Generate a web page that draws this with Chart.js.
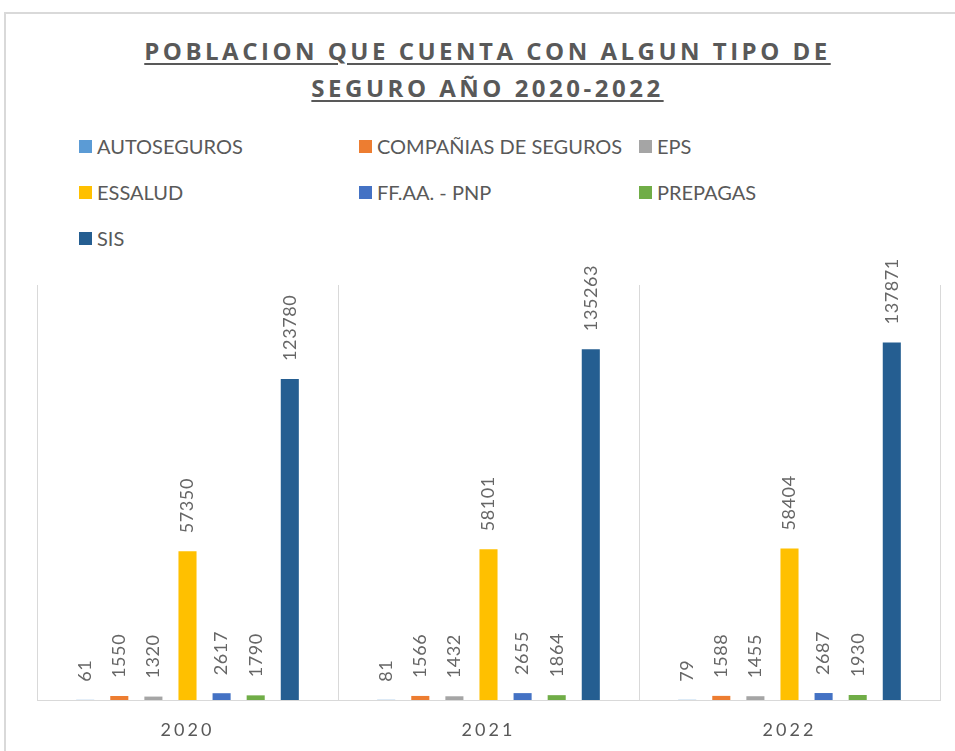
<!DOCTYPE html>
<html>
<head>
<meta charset="utf-8">
<script src="https://cdn.jsdelivr.net/npm/chart.js@4.4.1/dist/chart.umd.min.js"></script>
<style>
    html, body { margin: 0; padding: 0; background: #fff; overflow: hidden; }
    #wrap { position: relative; width: 955px; height: 751px; }
    #frame {
        position: absolute; left: 4px; top: 12px; width: 1000px; height: 800px;
        border: 2px solid #d9d9d9; box-sizing: border-box;
    }
    #title {
        position: absolute; left: 0; top: 32px; width: 975px; text-align: center;
        font-family: 'Open Sans', sans-serif; font-weight: bold; font-size: 24px;
        letter-spacing: 3.5px; line-height: 37px; color: #595959;
        text-decoration: underline; text-underline-offset: 3px; text-decoration-thickness: 2px;
    }
    .leg { position: absolute; font-family: Lato, sans-serif; font-size: 20px; color: #595959; line-height: 20px; white-space: nowrap; }
    .leg span { position: absolute; top: 4px; width: 13px; height: 13px; }
    #chartBox { position: absolute; left: 0; top: 0; width: 955px; height: 751px; }
</style>
</head>
<body>
<div id="wrap">
    <div id="frame"></div>
    <div id="title">POBLACION QUE CUENTA CON ALGUN TIPO DE<br>SEGURO AÑO 2020-2022</div>
    <div id="legend"></div>
    <div id="chartBox"><canvas id="chart" width="955" height="751"></canvas></div>
</div>
<script>
// Years (categories)
const years = ['2020', '2021', '2022'];

// Series values
const autoseguros = [61, 81, 79];
const companias = [1550, 1566, 1588];
const eps = [1320, 1432, 1455];
const essalud = [57350, 58101, 58404];
const ffaa = [2617, 2655, 2687];
const prepagas = [1790, 1864, 1930];
const sis = [123780, 135263, 137871];

const seriesNames = ['AUTOSEGUROS', 'COMPAÑIAS DE SEGUROS', 'EPS', 'ESSALUD', 'FF.AA. - PNP', 'PREPAGAS', 'SIS'];
const seriesData = [autoseguros, companias, eps, essalud, ffaa, prepagas, sis];
const seriesColors = ['#5B9BD5', '#ED7D31', '#A5A5A5', '#FFC000', '#4472C4', '#70AD47', '#255E91'];

// Legend laid out in three columns like the original
const legendCols = [79, 359, 639];
const legendRows = [136, 182, 228];
const legendEl = document.getElementById('legend');
seriesNames.forEach((name, i) => {
    const item = document.createElement('div');
    item.className = 'leg';
    item.style.left = legendCols[i % 3] + 'px';
    item.style.top = legendRows[Math.floor(i / 3)] + 'px';
    item.innerHTML = `<span style="left:0;background:${seriesColors[i]}"></span><div style="padding-left:18px">${name}</div>`;
    legendEl.appendChild(item);
});

// Value labels drawn vertically above each bar
const barLabels = {
    id: 'barLabels',
    afterDatasetsDraw(chart) {
        const ctx = chart.ctx;
        chart.data.datasets.forEach((ds, di) => {
            const meta = chart.getDatasetMeta(di);
            meta.data.forEach((bar, i) => {
                ctx.save();
                ctx.letterSpacing = '0.6px';
                ctx.translate(bar.x, bar.y - 18);
                ctx.rotate(-Math.PI / 2);
                ctx.font = '18px Lato, sans-serif';
                ctx.fillStyle = '#666666';
                ctx.textAlign = 'left';
                ctx.textBaseline = 'middle';
                ctx.fillText(String(ds.data[i]), 0, 0);
                ctx.restore();
            });
        });
    }
};

// Spaced-out year labels on the x axis
const spacedTicks = {
    id: 'spacedTicks',
    beforeDraw(chart) { chart.ctx.letterSpacing = '3px'; },
    beforeDatasetsDraw(chart) { chart.ctx.letterSpacing = '0px'; }
};

new Chart(document.getElementById('chart'), {
    type: 'bar',
    data: {
        labels: years,
        datasets: seriesNames.map((name, i) => ({
            label: name,
            data: seriesData[i],
            backgroundColor: seriesColors[i],
            categoryPercentage: 0.793,
            barPercentage: 0.53
        }))
    },
    options: {
        responsive: false,
        animation: false,
        layout: { padding: { left: 37, right: 15, top: 285, bottom: 0 } },
        plugins: {
            legend: { display: false },
            title: { display: false },
            tooltip: { enabled: false }
        },
        scales: {
            x: {
                grid: { offset: true, color: '#d9d9d9', drawTicks: false },
                border: { color: '#d9d9d9', width: 1 },
                ticks: { color: '#595959', font: { family: 'Lato', size: 18 }, padding: 19 },
                afterFit(scale) { scale.height = 51; }
            },
            y: {
                display: false,
                min: 0,
                max: 160000
            }
        }
    },
    plugins: [barLabels, spacedTicks]
});
</script>
</body>
</html>
